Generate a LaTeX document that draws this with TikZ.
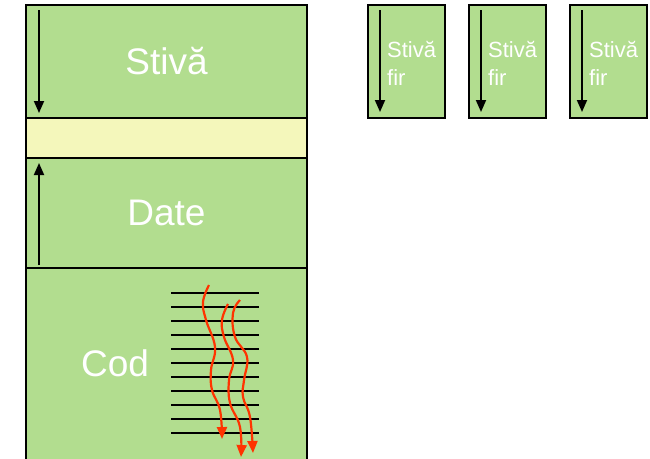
\documentclass[tikz,border=0pt]{standalone}
\usepackage{fontspec}
\setmainfont{Liberation Sans}
\definecolor{memGreen}{HTML}{B2DD8F}
\definecolor{memYellow}{HTML}{F4F7BB}
\definecolor{memRed}{HTML}{FF3300}
\usetikzlibrary{positioning,arrows.meta,calc}

\begin{document}
\begin{tikzpicture}[
      x=1pt, y=-1pt,
      region/.style={rectangle, draw=black, line width=2.4pt, fill=memGreen,
                  minimum width=281pt, inner sep=0pt, outer sep=0pt,
                  text=white, font=\fontsize{37}{40}\selectfont},
      thread/.style={rectangle, draw=black, line width=2.4pt, fill=memGreen,
                  minimum width=77pt, minimum height=113pt, inner sep=0pt,
                  outer sep=0pt, anchor=north west},
      stackarrow/.style={-{Triangle[length=12pt,width=10pt]}, line width=1.8pt},
      flow/.style={-{Triangle[length=12pt,width=10pt]}, line width=2.2pt, memRed},
      codeline/.style={line width=1.8pt}
    ]
    \useasboundingbox (0,0) rectangle (650,458);

    % process memory
    \node[region, anchor=north west, minimum height=113pt] (stiva) at (26,5) {Stivă};
    \node[region, fill=memYellow, minimum height=40pt, below=0pt of stiva] (gol) {};
    \node[region, minimum height=110pt, below=0pt of gol] (date) {Date};
    \node[region, minimum height=202pt, below=0pt of date] (cod) {};
    \node[text=white, font=\fontsize{37}{40}\selectfont] (codlabel) at (115,363) {Cod};

    \draw[stackarrow] ($(stiva.north west)+(13,5)$) -- ($(stiva.south west)+(13,-5)$);
    \draw[stackarrow] ($(date.south west)+(13,-3)$) -- ($(date.north west)+(13,5)$);

    % code and threads
    \foreach \k in {0,...,10}
      \draw[codeline] (171,293+14*\k) -- (259,293+14*\k);
    \draw[flow] plot[smooth, tension=0.7] coordinates {(209,285) (203,302) (206,320) (215,347) (211,370) (212,390) (220,410) (222,439)};
    \draw[flow] plot[smooth, tension=0.7] coordinates {(228,304) (222,320) (224,337) (233,360) (229,380) (230,403) (240,427) (241,457)};
    \draw[flow] plot[smooth, tension=0.7] coordinates {(240,300) (233,313) (235,337) (247,357) (244,380) (243,397) (250,417) (253,453)};

    % thread stacks
    \foreach \i/\x in {1/368,2/469,3/570} {
      \node[thread] (fir\i) at (\x,5) {};
      \draw[stackarrow] ($(fir\i.north west)+(12,5)$) -- ($(fir\i.south west)+(12,-6)$);
      \node[anchor=north west, inner sep=0pt, align=left, text=white,
            font=\fontsize{22}{28}\selectfont] (firlabel\i) at (\x+19,41) {Stivă\\fir};
    }
  \end{tikzpicture}
\end{document}
